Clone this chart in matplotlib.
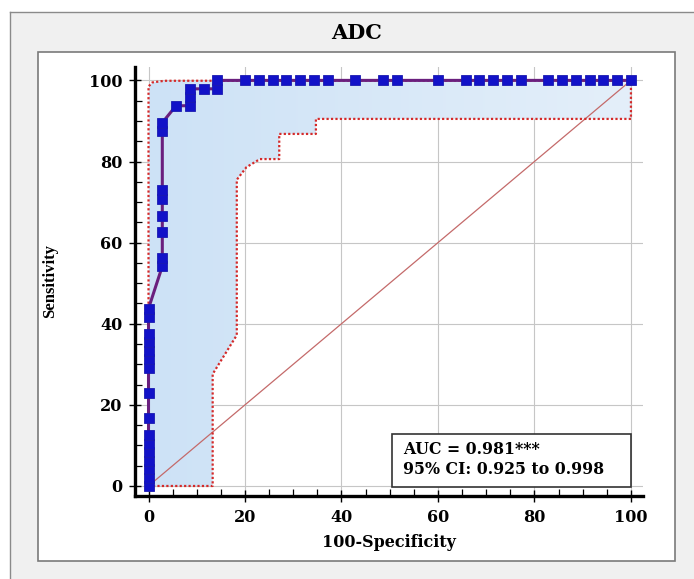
import numpy as np
import matplotlib
matplotlib.use("Agg")
import matplotlib.pyplot as plt
from matplotlib.patches import Rectangle
from matplotlib.lines import Line2D
from matplotlib.colors import LinearSegmentedColormap
from matplotlib.ticker import MultipleLocator

# ROC curve for ADC
roc_fpr = [0, 0, 0, 0, 0, 0, 0, 0, 0, 0, 0, 0, 0, 0, 0, 0,
           2.86, 2.86, 2.86, 2.86, 2.86, 2.86, 2.86, 2.86,
           5.71, 8.57, 8.57, 8.57, 11.43, 14.29, 14.29,
           20.00, 22.86, 25.71, 28.57, 31.43, 34.29, 37.14, 42.86,
           48.57, 51.43, 60.00, 65.71, 68.57, 71.43, 74.29, 77.14,
           82.86, 85.71, 88.57, 91.43, 94.29, 97.14, 100.00]
roc_tpr = [0, 2.08, 4.17, 6.25, 8.33, 10.42, 12.50, 16.67, 22.92, 29.17,
           31.25, 33.33, 35.42, 37.50, 41.67, 43.75,
           54.17, 56.25, 62.50, 66.67, 70.83, 72.92, 87.50, 89.58,
           93.75, 93.75, 95.83, 97.92, 97.92, 97.92, 100,
           100, 100, 100, 100, 100, 100, 100, 100,
           100, 100, 100, 100, 100, 100, 100, 100,
           100, 100, 100, 100, 100, 100, 100]

# 95% confidence bounds
upper_ci_x = [0, 0, 0.8, 3.3, 100]
upper_ci_y = [0, 98.5, 99.5, 99.9, 100]
lower_ci_x = [0, 13.3, 13.3, 18.3, 18.3, 20.3, 23.1, 27.1, 27.1, 34.7, 34.7, 100, 100]
lower_ci_y = [0, 0, 27.6, 37.2, 75.5, 78.6, 80.6, 80.6, 86.8, 86.8, 90.5, 90.5, 100]

auc_text = "AUC = 0.981***"
ci_text = "95% CI: 0.925 to 0.998"

W, H = 694, 579
fig = plt.figure(figsize=(W / 100, H / 100), dpi=100)
fig.patch.set_facecolor("white")

# gray panel with frame, white inner box
fig.add_artist(Rectangle((10 / W, 0), 1, 1 - 12 / H, transform=fig.transFigure,
                         fc="#f0f0f0", ec="none", zorder=-5))
fig.add_artist(Line2D([10 / W, 10 / W], [0, 1 - 12 / H], transform=fig.transFigure,
                      color="#8a8a8a", lw=1.0, zorder=-4))
fig.add_artist(Line2D([10 / W, 1], [1 - 12 / H, 1 - 12 / H], transform=fig.transFigure,
                      color="#8a8a8a", lw=1.0, zorder=-4))
fig.add_artist(Rectangle((38 / W, 1 - 561 / H), (675 - 38) / W, (561 - 52) / H,
                         transform=fig.transFigure, fc="white", ec="#7a7a7a",
                         lw=1.2, zorder=-3))

fig.text(357 / W, 1 - 33 / H, "ADC", ha="center", va="center",
         family="DejaVu Serif", weight="bold", fontsize=15)

ax = fig.add_axes([135 / W, 1 - 496 / H, (643 - 135) / W, (496 - 67) / H])
ax.set_facecolor("none")

# gradient fill of the confidence region
poly_x = np.concatenate([upper_ci_x, lower_ci_x[::-1]])
poly_y = np.concatenate([upper_ci_y, lower_ci_y[::-1]])
patch = ax.fill(poly_x, poly_y, color="none", lw=0)[0]
cmap = LinearSegmentedColormap.from_list("ci", ["#cde2f6", "#e4effa"])
im = ax.imshow(np.linspace(0, 1, 256).reshape(1, -1), extent=[0, 100, 0, 100],
               cmap=cmap, aspect="auto", zorder=1, interpolation="bilinear")
im.set_clip_path(patch)

ax.grid(True, color="#c6c6c6", lw=0.8, zorder=0)
ax.set_axisbelow(True)

ax.plot([0, 100], [0, 100], color="#c46a6a", lw=0.9, zorder=2)
ax.plot(upper_ci_x, upper_ci_y, color="#d42a2a", lw=1.6, ls=(0, (1, 1)), zorder=3)
ax.plot(lower_ci_x, lower_ci_y, color="#d42a2a", lw=1.6, ls=(0, (1, 1)), zorder=3)
ax.plot(roc_fpr, roc_tpr, color="#6a1f7e", lw=2.2, marker="s", ms=6.5,
        mfc="#1212c8", mec="#1a1ab0", mew=0.6, zorder=4, clip_on=False)

ax.set_xlim(-2.8, 102.5)
ax.set_ylim(-2.47, 103.3)
ax.xaxis.set_major_locator(MultipleLocator(20))
ax.yaxis.set_major_locator(MultipleLocator(20))
ax.xaxis.set_minor_locator(MultipleLocator(5))
ax.yaxis.set_minor_locator(MultipleLocator(5))

for s in ["top", "right"]:
    ax.spines[s].set_visible(False)
for s in ["left", "bottom"]:
    ax.spines[s].set_linewidth(2.4)
    ax.spines[s].set_color("black")

ax.tick_params(which="major", direction="inout", length=8, width=1.0, color="black",
               labelsize=11.5, pad=5)
ax.tick_params(which="minor", direction="in", length=5, width=0.9, color="black")
for lab in ax.get_xticklabels() + ax.get_yticklabels():
    lab.set_family("DejaVu Serif")
    lab.set_weight("bold")

ax.set_xlabel("100-Specificity", family="DejaVu Serif", weight="bold",
              fontsize=11.5, labelpad=6)
ax.set_ylabel("Sensitivity", family="Liberation Serif", weight="bold",
              fontsize=12, labelpad=22)

# AUC box
ax.add_patch(Rectangle((50.4, -0.2), 49.7, 12.9, fc="white", ec="#333333",
                       lw=1.2, zorder=5))
ax.text(52.8, 8.9, auc_text, family="DejaVu Serif", weight="bold",
        fontsize=11.3, va="center", ha="left", zorder=6)
ax.text(52.8, 4.1, ci_text, family="DejaVu Serif", weight="bold",
        fontsize=11.3, va="center", ha="left", zorder=6)

fig.savefig("out.png", dpi=100)
